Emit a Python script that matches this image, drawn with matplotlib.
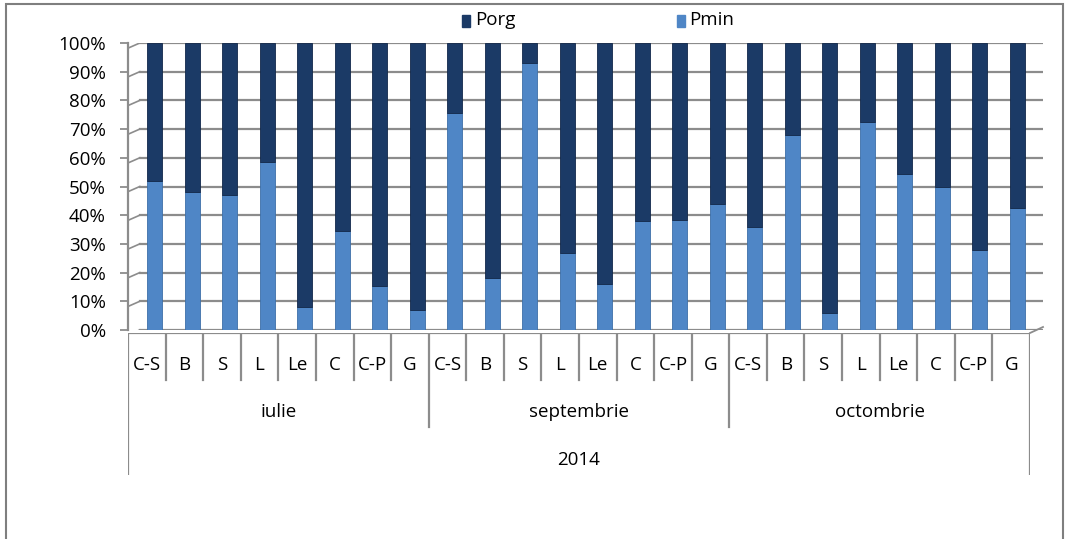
import matplotlib.pyplot as plt
import matplotlib.patches as mpatches
import numpy as np

plt.rcParams['font.family'] = ['Open Sans', 'DejaVu Sans']

# date
stations = ["C-S", "B", "S", "L", "Le", "C", "C-P", "G"]
months = ["iulie", "septembrie", "octombrie"]
year = "2014"

pmin_iulie = [52, 48, 47, 58.5, 8, 34.5, 15.5, 7]
pmin_sept = [75.5, 18, 93, 27, 16, 38, 38.5, 44]
pmin_oct = [36, 68, 6, 72.5, 54.5, 50, 28, 42.5]

pmin = np.array(pmin_iulie + pmin_sept + pmin_oct) / 100.0
porg = 1.0 - pmin
labels = stations * len(months)

c_porg = "#1b3a66"
c_pmin = "#4f86c6"
grid_c = "#8c8c8c"
fs = 13.5

W, H = 1070, 539
fig = plt.figure(figsize=(W / 100, H / 100), dpi=100)

# chenar
fig.patches.append(mpatches.Rectangle((6 / W, -0.01), 1057 / W, 1 - 4 / H + 0.01,
                                      transform=fig.transFigure, fill=False,
                                      edgecolor="#7f7f7f", lw=1.5))

# axa principala
ax = fig.add_axes([128 / W, 1 - 330 / H, 915 / W, 287 / H])
n = len(pmin)
x = np.arange(n)
ax.set_xlim(-0.714, 23.69)
ax.set_ylim(0, 1)

yt = np.arange(0, 1.01, 0.1)
dy = 0.018
for y in yt:
    ax.plot([-0.4, 23.69], [y, y], color=grid_c, lw=1.6, zorder=1)
    ax.plot([-0.714, -0.4], [y - dy, y], color=grid_c, lw=1.2, zorder=1)

ax.bar(x, pmin, width=0.4, color=c_pmin, edgecolor="#3d6fa8", lw=0.6, zorder=3)
ax.bar(x, porg, bottom=pmin, width=0.4, color=c_porg, edgecolor="#12284a", lw=0.6, zorder=3)

for s in ax.spines.values():
    s.set_visible(False)
ax.spines['left'].set_visible(True)
ax.spines['left'].set_color(grid_c)
ax.spines['left'].set_linewidth(1.6)
ax.set_xticks([])
ax.set_yticks(yt)
ax.set_yticklabels([f"{int(round(v * 100))}%" for v in yt], fontsize=fs)
ax.tick_params(axis='y', length=6, color=grid_c, width=1.3, pad=10)

# coltul podelei, dreapta
fig.add_artist(plt.Line2D([1030 / W, 1043 / W], [1 - 333 / H, 1 - 327 / H],
                          color=grid_c, lw=1.3))

# axa categoriilor (etichete pe mai multe niveluri)
cx = fig.add_axes([128 / W, 1 - 475 / H, 902 / W, 142 / H])
cx.set_xlim(-0.5, n - 0.5)
cx.set_ylim(0, 142)
cx.axis("off")
cx.plot([-0.5, n - 0.5], [142, 142], color=grid_c, lw=1.6)
for i in range(n + 1):
    b = i - 0.5
    if i == 0 or i == n:
        y0 = 0
    elif i % len(stations) == 0:
        y0 = 48
    else:
        y0 = 95
    cx.plot([b, b], [y0, 142], color=grid_c, lw=1.6)
for i, lab in enumerate(labels):
    cx.text(i, 110, lab, ha="center", va="center", fontsize=fs)
k = len(stations)
for j, m in enumerate(months):
    cx.text(j * k + (k - 1) / 2, 63, m, ha="center", va="center", fontsize=fs)
cx.text((n - 1) / 2, 15, year, ha="center", va="center", fontsize=fs)

# legenda
fig.patches.append(mpatches.Rectangle((462 / W, 1 - 27 / H), 8 / W, 12 / H,
                                      transform=fig.transFigure, color=c_porg))
fig.text(475 / W, 1 - 20 / H, "Porg", fontsize=fs, va="center")
fig.patches.append(mpatches.Rectangle((677 / W, 1 - 27 / H), 8 / W, 12 / H,
                                      transform=fig.transFigure, color=c_pmin))
fig.text(689 / W, 1 - 20 / H, "Pmin", fontsize=fs, va="center")

plt.savefig("out.png", dpi=100)
